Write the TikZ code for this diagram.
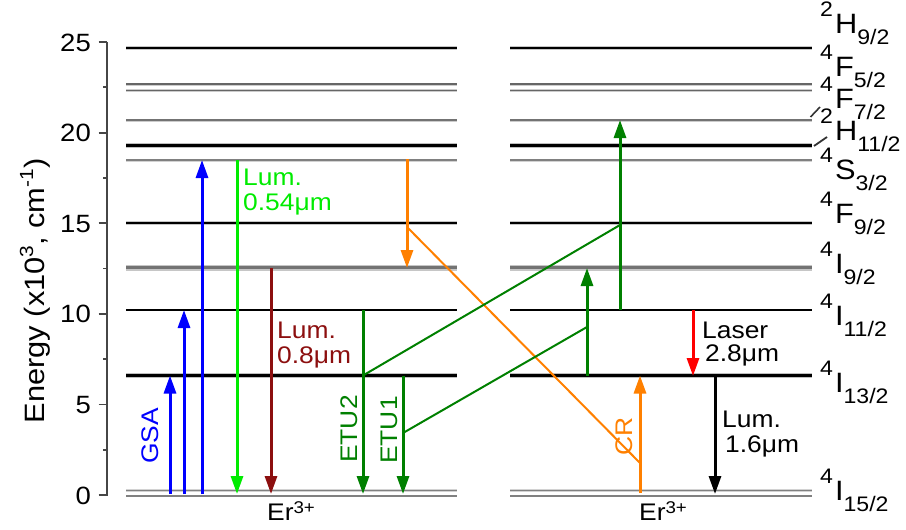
\documentclass[tikz,border=0pt]{standalone}
\usepackage{fontspec}
\setmainfont{Liberation Sans}[FakeStretch=1.1]
\usetikzlibrary{arrows.meta}
\definecolor{cblue}{RGB}{0,0,255}
\definecolor{lgreen}{RGB}{0,235,0}
\definecolor{dred}{RGB}{140,15,15}
\definecolor{dgreen}{RGB}{0,128,0}
\definecolor{corange}{RGB}{255,128,0}
\definecolor{cred}{RGB}{255,0,0}
\definecolor{axisgray}{RGB}{70,70,70}
\newcommand\fs[1]{\fontsize{#1}{#1}\selectfont}
% level: y, halo colour, halo width, core colour, core width
\newcommand\enlev[5]{%
  \draw[line width=#3pt,#2] (126,#1) -- (457,#1);
  \draw[line width=#5pt,#4] (126,#1) -- (457,#1);
  \draw[line width=#3pt,#2] (510,#1) -- (812,#1);
  \draw[line width=#5pt,#4] (510,#1) -- (812,#1);}
\newcommand\lvlab[5]{%
  \node[anchor=base west,inner sep=0pt] (#1) at (820,#2)
   {\raisebox{17pt}{\fs{21}#3}\kern2pt{\fs{28}#4}\raisebox{-11pt}{\fs{21}#5}};}
\begin{document}
\begin{tikzpicture}[x=1pt,y=-1pt,
  tx/.style={font=\fs{24},inner sep=0pt},
  arr/.style={line width=3pt,-{Triangle[length=18pt,width=12pt]}},
  thinln/.style={line width=2pt},
  axisln/.style={line width=1.8pt,axisgray}]
\useasboundingbox (0,0) rectangle (906,530);
% energy levels
\enlev{48}{gray!45}{3.6}{black}{2.2}
\enlev{84}{gray!40}{3}{black!60}{1.2}
\enlev{90.5}{gray!40}{3}{black!60}{1.2}
\enlev{120}{gray!40}{3}{black!55}{1.2}
\enlev{145.5}{gray!50}{4.6}{black}{2.6}
\enlev{160}{gray!35}{3}{black!50}{1.2}
\enlev{223}{gray!45}{3.6}{black}{2}
\enlev{267.5}{gray!45}{6}{black!55}{2.4}
\enlev{310}{gray!40}{2.6}{black}{1.4}
\enlev{375.5}{gray!50}{4.6}{black}{2.8}
\enlev{490.5}{gray!35}{2.8}{black!50}{1.2}
\enlev{496}{gray!35}{2.8}{black!50}{1.2}
% axis
\draw[axisln] (107,42) -- (107,496);
\foreach \e/\lab in {0/0,5/5,10/10,15/15,20/20,25/25}{
  \draw[axisln] (98.5,{495-18.12*\e}) -- (107,{495-18.12*\e});
  \node[anchor=base east,inner sep=0pt,font=\fs{25}] (tick\lab) at (91,{495-18.12*\e+9}) {\lab};}
\foreach \e in {2.5,7.5,12.5,17.5,22.5}{
  \draw[axisln] (103,{495-18.12*\e}) -- (107,{495-18.12*\e});}
\node[rotate=90,anchor=base,inner sep=0pt,font=\fs{28}] (ylab) at (44,291)
  {Energy (x10\raisebox{11pt}{\fs{19}3}, cm\raisebox{11pt}{\fs{19}-1})};
% level labels
\lvlab{l1}{33}{2}{H}{9/2}
\lvlab{l2}{76}{4}{F}{5/2}
\lvlab{l3}{108}{4}{F}{7/2}
\lvlab{l4}{140}{2}{H}{11/2}
\lvlab{l5}{179}{4}{S}{3/2}
\lvlab{l6}{223}{4}{F}{9/2}
\lvlab{l7}{273}{4}{I}{9/2}
\lvlab{l8}{325}{4}{I}{11/2}
\lvlab{l9}{392}{4}{I}{13/2}
\lvlab{l10}{500}{4}{I}{15/2}
\coordinate (s1a) at (810.5,117); \coordinate (s1b) at (820,107);
\coordinate (s2a) at (814,146); \coordinate (s2b) at (827,137);
\draw[line width=1.6pt,black!80] (s1a) -- (s1b);
\draw[line width=1.8pt,black!80] (s2a) -- (s2b);
% coordinates for transitions
\coordinate (g1a) at (170,494); \coordinate (g1b) at (170,375.5);
\coordinate (g2a) at (184,494); \coordinate (g2b) at (184,310);
\coordinate (g3a) at (202,494); \coordinate (g3b) at (202,160);
\coordinate (gra) at (237,160); \coordinate (grb) at (237,494);
\coordinate (dra) at (271,268); \coordinate (drb) at (271,494);
\coordinate (e2a) at (363,310); \coordinate (e2m) at (363,375.5); \coordinate (e2b) at (363,494);
\coordinate (e1a) at (403,375.5); \coordinate (e1m) at (403,433); \coordinate (e1b) at (403,494);
\coordinate (oda) at (407,159); \coordinate (odm) at (407,227); \coordinate (odb) at (407,268);
\coordinate (oua) at (640,493); \coordinate (oum) at (640,463); \coordinate (oub) at (640,375.5);
\coordinate (u1a) at (620,310); \coordinate (u1m) at (620,225); \coordinate (u1b) at (620,120);
\coordinate (u2a) at (587,375.5); \coordinate (u2m) at (587,327); \coordinate (u2b) at (587,268);
\coordinate (lza) at (693,310); \coordinate (lzb) at (693,376);
\coordinate (bka) at (715,376); \coordinate (bkb) at (715,494);
% transitions
\draw[arr,cblue] (g1a) -- (g1b);
\draw[arr,cblue] (g2a) -- (g2b);
\draw[arr,cblue] (g3a) -- (g3b);
\draw[arr,lgreen] (gra) -- (grb);
\draw[arr,dred] (dra) -- (drb);
\draw[arr,dgreen] (e2a) -- (e2b);
\draw[arr,dgreen] (e1a) -- (e1b);
\draw[arr,corange] (oda) -- (odb);
\draw[thinln,corange] (odm) -- (oum);
\draw[arr,corange] (oua) -- (oub);
\draw[thinln,dgreen] (e2m) -- (u1m);
\draw[thinln,dgreen] (e1m) -- (u2m);
\draw[arr,dgreen] (u1a) -- (u1b);
\draw[arr,dgreen] (u2a) -- (u2b);
\draw[arr,cred] (lza) -- (lzb);
\draw[arr,black] (bka) -- (bkb);
% texts
\node[tx,text=lgreen,anchor=base west] (t1) at (243,185) {Lum.};
\node[tx,text=lgreen,anchor=base west] (t2) at (243,210) {0.54μm};
\node[tx,text=dred,anchor=base west] (t3) at (277,338) {Lum.};
\node[tx,text=dred,anchor=base west] (t4) at (277,363) {0.8μm};
\node[tx,anchor=base west] (t5) at (702,338) {Laser};
\node[tx,anchor=base west] (t6) at (705,361) {2.8μm};
\node[tx,anchor=base west] (t7) at (722,427) {Lum.};
\node[tx,anchor=base west] (t8) at (725,452) {1.6μm};
\node[tx,text=cblue,rotate=90,anchor=base] (gsa) at (158,436) {GSA};
\node[tx,text=dgreen,rotate=90,anchor=base] (etu2) at (357,429) {ETU2};
\node[tx,text=dgreen,rotate=90,anchor=base] (etu1) at (397,430) {ETU1};
\node[tx,text=corange,rotate=90,anchor=base] (cr) at (632,436) {CR};
\node[tx,anchor=base] (er1) at (291,520) {Er\raisebox{7pt}{\fs{17}3+}};
\node[tx,anchor=base] (er2) at (663,520) {Er\raisebox{7pt}{\fs{17}3+}};
\end{tikzpicture}
\end{document}
